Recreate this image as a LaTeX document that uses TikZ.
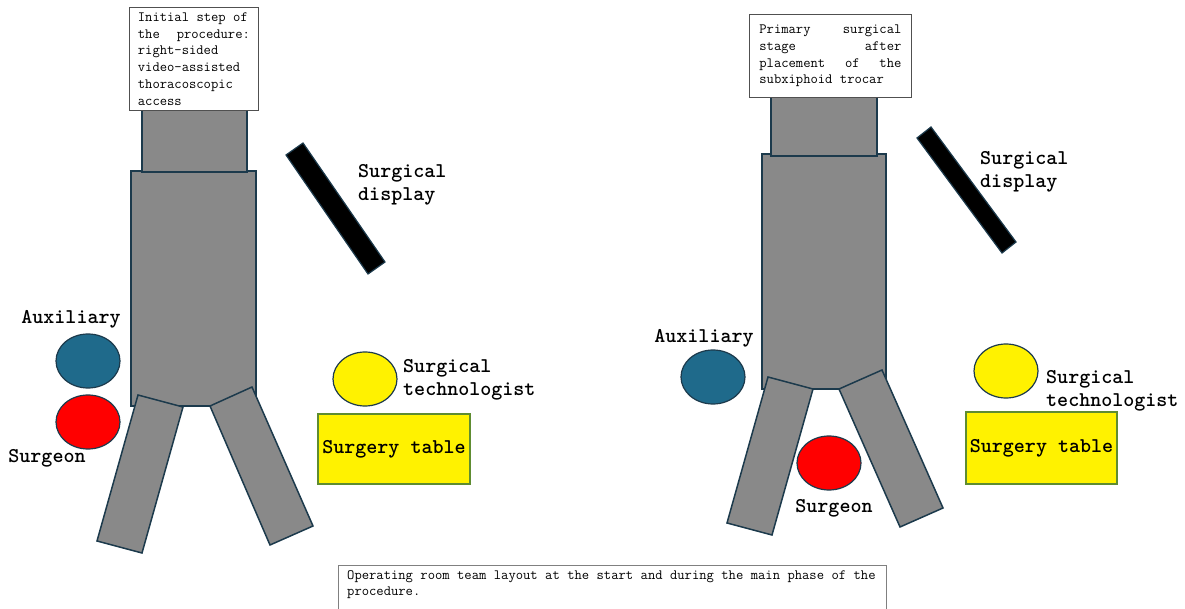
\documentclass[tikz,border=0pt]{standalone}
\usepackage{fontspec}
\setmainfont{Liberation Serif}
\usetikzlibrary{shapes.geometric}

\definecolor{limbgray}{HTML}{898989}
\definecolor{outline}{HTML}{1C3A4C}
\definecolor{auxblue}{HTML}{1F6A8B}
\definecolor{tablegreen}{HTML}{5E8C31}
\definecolor{framegray}{HTML}{808080}
\definecolor{notegray}{HTML}{505050}

% one justified line of a note
\newcommand{\jline}[1]{\makebox[\linewidth][s]{#1}}
% full-width typewriter spaces
\newcommand{\fixsp}{\spaceskip=0.525em plus 1em\relax}
\newcommand{\labelfont}{\ttfamily\bfseries\fontsize{21}{22.5}\selectfont}
\newcommand{\notefont}{\ttfamily\fontsize{14.2}{16.8}\selectfont}

\tikzset{
  part/.style={fill=limbgray, draw=outline, line width=1.5pt, line join=miter},
  screen/.style={fill=black, draw=outline, line width=1.2pt},
  person/.style={ellipse, draw=outline, line width=1.2pt, minimum width=64pt,
                 minimum height=54pt, inner sep=0pt},
  lbl/.style={font=\labelfont, inner sep=0pt, align=left},
  note/.style={draw=notegray, line width=0.8pt, fill=white,
               font=\notefont, align=left, inner ysep=3pt},
  optable/.style={fill=yellow, draw=tablegreen, line width=1.2pt,
                  font=\labelfont\fixsp, inner sep=0pt}
}

\begin{document}
\begin{tikzpicture}[x=1pt, y=-1pt]
\useasboundingbox (0,0) rectangle (1185,609);

% ---------------- start of the procedure ----------------
% patient: trunk, head and legs
\draw[part] (131,171) rectangle (256,406);
\draw[part] (142,108) rectangle (247,172);
\draw[part] (138,395) -- (183,407) -- (142,553) -- (97,541) -- cycle;
\draw[part] (210,406) -- (252,387) -- (313,526) -- (270,545) -- cycle;

\node[note, anchor=north west, text width=112pt, inner xsep=8.5pt,
      minimum height=103pt] (noteA) at (129,7)
  {\fixsp Initial step of\\ \jline{the\hfill procedure:}\\ right-sided\\
   video-assisted\\ thoracoscopic\\ access};

% monitor
\draw[screen] (286,155) -- (303,143) -- (385,262) -- (368,274) -- cycle;
\node[lbl, anchor=west] (dispA) at (358,185) {Surgical\\display};

% staff
\node[lbl] (auxA-label) at (71,319) {Auxiliary};
\node[person, fill=auxblue] (auxA) at (88,361) {};
\node[person, fill=red] (surgA) at (88,422) {};
\node[lbl] (surgA-label) at (47,458) {Surgeon};

\node[person, fill=yellow] (techA) at (365,379) {};
\node[lbl, anchor=west] (techA-label) at (403,380) {Surgical\\technologist};
\node[optable, minimum width=152pt, minimum height=70pt] (tableA) at (394,449)
  {Surgery table};

% ---------------- main phase of the procedure ----------------
\draw[part] (762,154) rectangle (886,389);
\draw[part] (771,95) rectangle (877,156);
\draw[part] (768,377) -- (813,389) -- (772,535) -- (727,523) -- cycle;
\draw[part] (839,389) -- (882,370) -- (943,508) -- (900,527) -- cycle;

\node[note, anchor=north west, text width=142pt, inner xsep=10pt,
      minimum height=83pt] (noteB) at (749,14)
  {\fixsp\jline{Primary\hfill surgical}\\ \jline{stage\hfill after}\\
   \jline{placement\hfill of\hfill the}\\ subxiphoid trocar\\[-2pt]};

\draw[screen] (917,138) -- (931,127) -- (1016,242) -- (1002,253) -- cycle;
\node[lbl, anchor=west] (dispB) at (980,172) {Surgical\\display};

\node[lbl] (auxB-label) at (704,338) {Auxiliary};
\node[person, fill=auxblue] (auxB) at (713,377) {};
\node[person, fill=red] (surgB) at (829,463) {};
\node[lbl] (surgB-label) at (834,508) {Surgeon};

\node[person, fill=yellow] (techB) at (1006,371) {};
\node[lbl, anchor=west] (techB-label) at (1046,391) {Surgical\\technologist};
\node[optable, minimum width=151pt, minimum height=72pt] (tableB) at (1041.5,448)
  {Surgery table};

% ---------------- caption ----------------
\draw[framegray, line width=1pt] (338,612) |- (886,565) -- (886,612);
\node[font=\notefont, align=left, anchor=north west, inner sep=0pt]
  (caption) at (347,570)
  {\fixsp Operating room team layout at the start and during the main phase of the\\
   procedure.};
\end{tikzpicture}
\end{document}
